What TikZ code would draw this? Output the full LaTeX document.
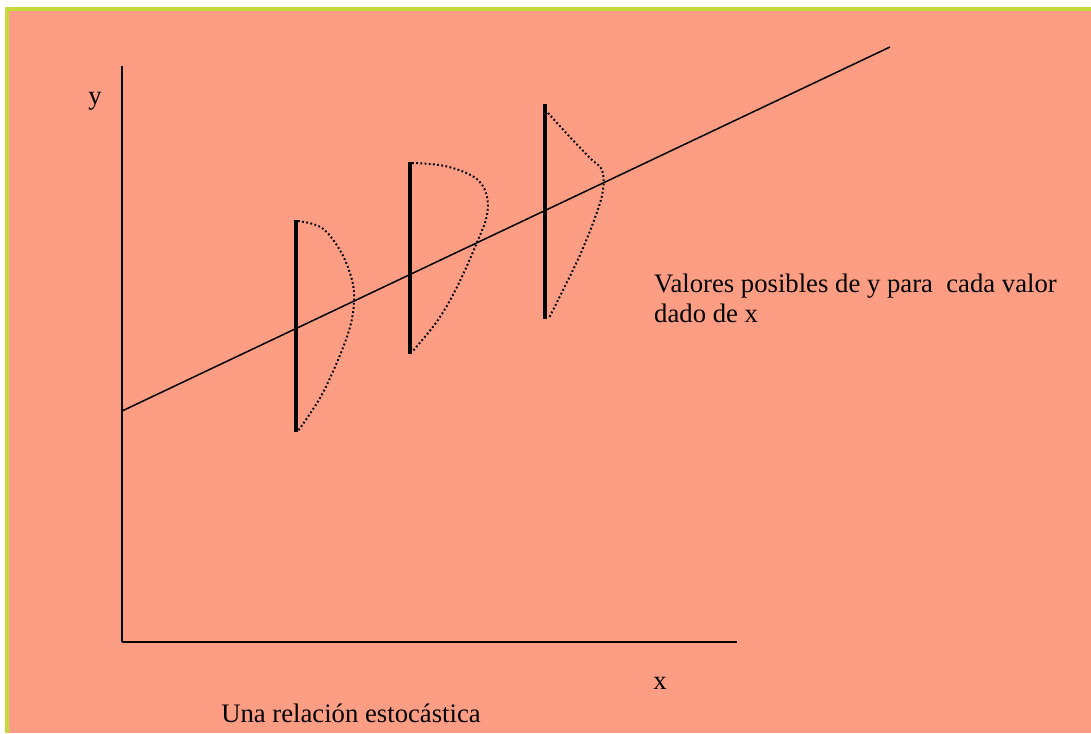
\documentclass[tikz,border=0pt]{standalone}
\usepackage{fontspec}
\setmainfont{Liberation Serif}
\usetikzlibrary{positioning}
\definecolor{salmon}{RGB}{253,158,132}
\definecolor{framegreen}{RGB}{198,217,63}
\begin{document}
\begin{tikzpicture}[x=1pt, y=-1pt]
\tikzstyle{axis}=[draw, line width=2.8pt]
\tikzstyle{bar}=[draw, line width=3.2pt]
\tikzstyle{fitline}=[draw, line width=1.5pt]
\tikzstyle{density}=[draw, line width=2pt, dash pattern=on 1.8pt off 2.4pt, smooth, tension=0.6]
\tikzstyle{lbl}=[inner sep=0pt, font=\fontsize{26.7}{30}\selectfont]
\useasboundingbox (0,0) rectangle (1091,733);
\fill[framegreen] (5,7) rectangle (1091,733);
\fill[salmon] (9,11) rectangle (1091,733);
% axes
\coordinate (origin) at (122,642);
\coordinate (ytop) at (122,66);
\coordinate (xend) at (737,642);
\path (ytop) edge [axis] (origin)
      (origin) edge [axis] (xend);
\node[lbl] (ylab) at (95,101) {y};
\node[lbl] (xlab) at (660,683) {x};
% regression line
\coordinate (lstart) at (122,411);
\coordinate (lend) at (890,47);
\path (lstart) edge [fitline] (lend);
% conditional distributions
\coordinate (b1top) at (296,220);
\coordinate (b1bot) at (296,432);
\coordinate (b2top) at (410,162);
\coordinate (b2bot) at (410,354);
\coordinate (b3top) at (545,104);
\coordinate (b3bot) at (545,319);
\path (b1top) edge [bar] (b1bot)
      (b2top) edge [bar] (b2bot)
      (b3top) edge [bar] (b3bot);
\draw[density] plot coordinates {(298,221) (322,228) (341,252) (352,280) (354,302) (350,327) (338,360) (320,398) (298,431)};
\draw[density] plot coordinates {(412,163) (445,166) (474,177) (486,193) (487,215) (478,240) (458,285) (438,320) (412,352)};
\draw[density] plot coordinates {(548,113) (568,135) (590,158) (602,170) (603,190) (596,215) (580,255) (563,290) (549,318)};
% texts
\node[lbl, anchor=west, align=left] (note) at (654,298) {Valores posibles de y para\ \ cada valor\\dado de x};
\node[lbl] (caption) at (351,713) {Una relación estocástica};
\end{tikzpicture}
\end{document}
